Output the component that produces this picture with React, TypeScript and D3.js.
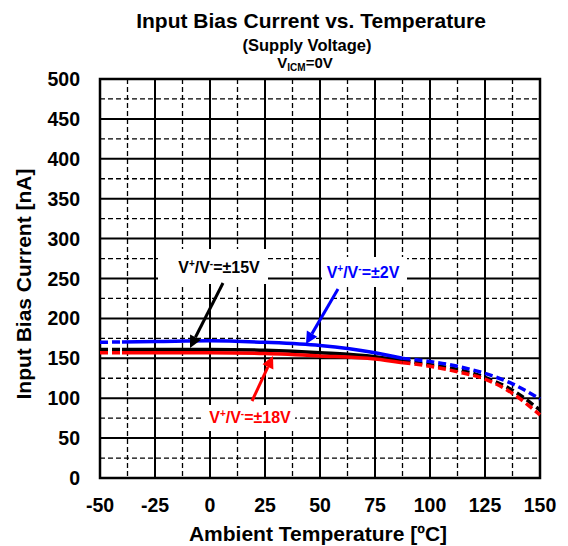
import * as d3 from 'd3'

const WIDTH = 568
const HEIGHT = 546
const LEFT = 100
const RIGHT = 540
const TOP = 79
const BOTTOM = 478
const FONT = '"Liberation Sans", Arial, sans-serif'

const temps = [-50, -40, -25, 0, 25, 50, 75, 87.5, 100, 112.5, 125, 137.5, 150]
const blue2V = [170, 170.5, 171, 172, 170, 166, 157, 150, 146, 140, 131, 118, 99]
const black15V = [161, 161, 161, 161, 160, 157, 152, 147, 142, 136, 126, 110, 85]
const red18V = [157, 157, 157, 157, 156, 153, 149, 144.5, 140, 133, 124, 106, 79]

const xTicks = [-50, -25, 0, 25, 50, 75, 100, 125, 150]
const yTicks = [0, 50, 100, 150, 200, 250, 300, 350, 400, 450, 500]
const SOLID_FROM = -40
const SOLID_TO = 87.5

const x = d3.scaleLinear([-50, 150], [LEFT, RIGHT])
const y = d3.scaleLinear([0, 500], [BOTTOM, TOP])

const xMinor = d3.range(-37.5, 150, 25)
const yMinor = d3.range(25, 500, 50)

type Pt = [number, number]
const line = d3
  .line<Pt>()
  .x((d) => x(d[0]))
  .y((d) => y(d[1]))
  .curve(d3.curveMonotoneX)

function Series({ values, color }: { values: number[]; color: string }) {
  const pts: Pt[] = temps.map((t, i) => [t, values[i]])
  const left = pts.filter((d) => d[0] <= SOLID_FROM)
  const mid = pts.filter((d) => d[0] >= SOLID_FROM && d[0] <= SOLID_TO)
  const right = pts.filter((d) => d[0] >= SOLID_TO)
  return (
    <g fill="none" stroke={color} strokeWidth={3.5}>
      <path d={line(left) ?? ''} strokeDasharray="8 4" />
      <path d={line(mid) ?? ''} />
      <path d={line(right) ?? ''} strokeDasharray="8 4" />
    </g>
  )
}

// white boxed callout; box and text centres differ a little in the original
function Label(props: {
  bx: number
  by: number
  bw: number
  bh: number
  tx: number
  ty: number
  color: string
  volts: string
}) {
  const { bx, by, bw, bh, tx, ty, color, volts } = props
  return (
    <g>
      <rect x={bx} y={by} width={bw} height={bh} fill="white" />
      <text x={tx} y={ty} textAnchor="middle" fontSize={16} fontWeight="bold" fill={color}>
        V<tspan fontSize={10} dy={-6}>+</tspan>
        <tspan dy={6}>/V</tspan>
        <tspan fontSize={10} dy={-6}>-</tspan>
        <tspan dy={6}>={volts}</tspan>
      </text>
    </g>
  )
}

function Arrow({ x1, y1, x2, y2, color }: { x1: number; y1: number; x2: number; y2: number; color: string }) {
  const ang = Math.atan2(y2 - y1, x2 - x1)
  const len = 12
  const half = 6
  const bx = x2 - len * Math.cos(ang)
  const by = y2 - len * Math.sin(ang)
  const px = -Math.sin(ang) * half
  const py = Math.cos(ang) * half
  return (
    <g>
      <line x1={x1} y1={y1} x2={bx} y2={by} stroke={color} strokeWidth={3} />
      <polygon points={`${x2},${y2} ${bx + px},${by + py} ${bx - px},${by - py}`} fill={color} />
    </g>
  )
}

export default function App() {
  return (
    <svg
      width={WIDTH}
      height={HEIGHT}
      style={{ position: 'absolute', left: 0, top: 0, background: 'white' }}
      fontFamily={FONT}
    >
      <rect width={WIDTH} height={HEIGHT} fill="white" />
      {/* grid */}
      <g stroke="black" strokeWidth={1.3} strokeDasharray="5 3">
        {xMinor.map((t) => (
          <line key={'xm' + t} x1={x(t)} x2={x(t)} y1={TOP} y2={BOTTOM} />
        ))}
        {yMinor.map((v) => (
          <line key={'ym' + v} x1={LEFT} x2={RIGHT} y1={y(v)} y2={y(v)} />
        ))}
      </g>
      <g stroke="black" strokeWidth={2}>
        {xTicks.map((t) => (
          <line key={'x' + t} x1={x(t)} x2={x(t)} y1={TOP} y2={BOTTOM} />
        ))}
        {yTicks.map((v) => (
          <line key={'y' + v} x1={LEFT} x2={RIGHT} y1={y(v)} y2={y(v)} />
        ))}
      </g>
      <rect x={LEFT} y={TOP} width={RIGHT - LEFT} height={BOTTOM - TOP} fill="none" stroke="black" strokeWidth={2.5} />

      {/* curves */}
      <Series values={black15V} color="black" />
      <Series values={red18V} color="#ff0000" />
      <Series values={blue2V} color="#0000ff" />

      {/* annotations */}
      <Label bx={158} by={249} bw={110} bh={35} tx={219} ty={273} color="black" volts="±15V" />
      <Arrow x1={223} y1={283} x2={190} y2={348} color="black" />
      <Label bx={322} by={257} bw={85} bh={30} tx={363} ty={278} color="#0000ff" volts="±2V" />
      <Arrow x1={338} y1={289} x2={306} y2={344} color="#0000ff" />
      <Label bx={203} by={405} bw={92} bh={26} tx={250} ty={423} color="#ff0000" volts="±18V" />
      <Arrow x1={252} y1={401} x2={273} y2={356} color="#ff0000" />

      {/* tick labels */}
      <g fontSize={19.5} fontWeight="bold" fill="black">
        {xTicks.map((t) => (
          <text key={'xl' + t} x={x(t)} y={512} textAnchor="middle">
            {t}
          </text>
        ))}
        {yTicks.map((v) => (
          <text key={'yl' + v} x={80} y={y(v) + 7} textAnchor="end">
            {v}
          </text>
        ))}
      </g>

      {/* titles */}
      <text x={311} y={28} textAnchor="middle" fontSize={21} fontWeight="bold">
        Input Bias Current vs. Temperature
      </text>
      <text x={307} y={51} textAnchor="middle" fontSize={16.5} fontWeight="bold">
        (Supply Voltage)
      </text>
      <text x={305} y={68} textAnchor="middle" fontSize={15} fontWeight="bold">
        V<tspan fontSize={10} dy={3}>ICM</tspan>
        <tspan dy={-3}>=0V</tspan>
      </text>
      <text x={318} y={541} textAnchor="middle" fontSize={21} fontWeight="bold">
        Ambient Temperature [ºC]
      </text>
      <text transform="translate(31,284) rotate(-90)" textAnchor="middle" fontSize={21} fontWeight="bold">
        Input Bias Current [nA]
      </text>
    </svg>
  )
}
